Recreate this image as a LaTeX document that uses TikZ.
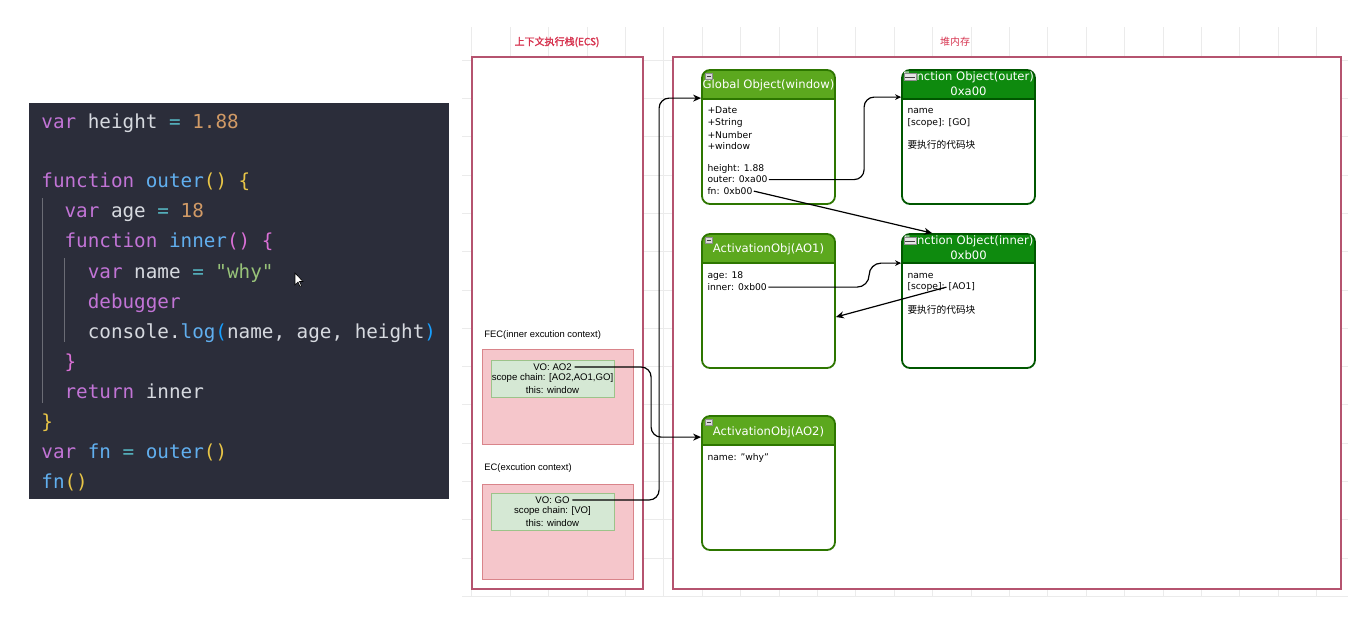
\documentclass[tikz,border=0pt]{standalone}
\usepackage{fontspec}
\setmainfont{DejaVu Sans}
\newfontfamily\codefont{DejaVu Sans Mono}
\newfontfamily\labelfont{Liberation Sans}
\newfontfamily\cjk{Noto Sans CJK SC}
\newfontfamily\cjkbold[FakeBold=2]{Noto Sans CJK SC}
\definecolor{code bg}{HTML}{2B2D3A}
\definecolor{code kw}{HTML}{C274D6}
\definecolor{code var}{HTML}{D7DAE0}
\definecolor{code fun}{HTML}{61AFEF}
\definecolor{code num}{HTML}{D19A66}
\definecolor{code op}{HTML}{56B6C2}
\definecolor{code str}{HTML}{98C379}
\definecolor{code br}{HTML}{E8C547}
\definecolor{code br2}{HTML}{DA70D6}
\definecolor{code br3}{HTML}{179FFF}
\definecolor{frame red}{HTML}{B5536F}
\definecolor{title red}{HTML}{D6334F}
\definecolor{context fill}{HTML}{F5C6CB}
\definecolor{context line}{HTML}{D9848A}
\definecolor{var fill}{HTML}{D5E8D4}
\definecolor{var line}{HTML}{9CC38A}
\definecolor{obj green}{HTML}{5CA81E}
\definecolor{obj green line}{HTML}{2D7600}
\definecolor{fun green}{HTML}{0E8A0E}
\definecolor{fun green line}{HTML}{005700}
\usepackage{tikz}
\usetikzlibrary{calc,positioning,arrows.meta}
\tikzstyle{line} = [line width=0.6pt]
\tikzstyle{line>} = [line,-{Stealth[length=4pt, width=3.5pt]}]
\tikzstyle{small line>} = [line,-{Stealth[length=3pt, width=2.8pt]}]
\tikzstyle{grid line} = [line width=0.25pt, black!8]
\tikzstyle{code line} = [anchor=mid west, inner sep=0pt, text=code var, font=\codefont\fontsize{9.64pt}{12pt}\selectfont]
\tikzstyle{indent guide} = [line width=0.4pt, white!30!code bg]
\tikzstyle{frame node} = [draw=frame red, line width=0.9pt, fill=white, inner sep=0pt]
\tikzstyle{frame title} = [text=title red, inner sep=0pt, font=\fontsize{5pt}{6pt}\selectfont]
\tikzstyle{context node} = [draw=context line, fill=context fill, line width=0.5pt, minimum width=75.5pt, minimum height=47.5pt, inner sep=0pt]
\tikzstyle{context label} = [anchor=west, inner sep=0pt, font=\labelfont\fontsize{4.7pt}{5.6pt}\selectfont]
\tikzstyle{var node} = [draw=var line, fill=var fill, line width=0.5pt, minimum width=61.5pt, minimum height=18.5pt, inner sep=0pt]
\tikzstyle{var text} = [inner sep=1.2pt, font=\labelfont\fontsize{4.8pt}{5.8pt}\selectfont]
\tikzstyle{obj title} = [text=white, inner sep=0pt, font=\fontsize{5.8pt}{7pt}\selectfont]
\tikzstyle{obj text} = [anchor=west, inner sep=0.5pt, font=\fontsize{4.6pt}{5.75pt}\selectfont]
\tikzstyle{obj cjk} = [anchor=west, inner sep=0.5pt, font=\cjk\fontsize{4.85pt}{5.8pt}\selectfont]
\tikzset{
  heap node/.style 2 args={draw=#2, line width=0.9pt, rounded corners=4pt,
    minimum width=66.5pt, minimum height=67pt, inner sep=0pt, fill=white,
    path picture={
      \fill[#1, sharp corners] (path picture bounding box.north west) rectangle ([yshift=-14.5pt]path picture bounding box.north east);
      \draw[#2, line width=0.7pt, sharp corners] ([yshift=-14.5pt]path picture bounding box.north west) -- ([yshift=-14.5pt]path picture bounding box.north east);
    }},
  collapse/.style={draw=black!45, fill=black!15, line width=0.2pt, minimum width=3.5pt, minimum height=3pt, inner sep=0pt,
    path picture={\draw[black!75, line width=0.4pt] ([xshift=0.6pt]path picture bounding box.west) -- ([xshift=-0.6pt]path picture bounding box.east);}},
  wide collapse/.style={collapse, minimum width=6pt, minimum height=3.5pt, fill=black!10}
}
\newcommand\cKw[1]{\textcolor{code kw}{#1}}
\newcommand\cVar[1]{\textcolor{code var}{#1}}
\newcommand\cFun[1]{\textcolor{code fun}{#1}}
\newcommand\cNum[1]{\textcolor{code num}{#1}}
\newcommand\cOp[1]{\textcolor{code op}{#1}}
\newcommand\cStr[1]{\textcolor{code str}{#1}}
\newcommand\cBrA[1]{\textcolor{code br}{#1}}
\newcommand\cBrB[1]{\textcolor{code br2}{#1}}
\newcommand\cBrC[1]{\textcolor{code br3}{#1}}

\begin{document}
\begin{tikzpicture}[x=0.5pt,y=-0.5pt]
        \useasboundingbox (0,0) rectangle (1365,623);
        
        % code panel
        \fill[code bg] (29,103) rectangle (449,499);
        \draw[indent guide] (42,198) -- (42,403);
        \draw[indent guide] (64,258) -- (64,342);
        \node[code line] (c1) at (41,123) {\cKw{var} height \cOp{=} \cNum{1.88}};
        \node[code line] (c2) at (41,182) {\cKw{function} \cFun{outer}\cBrA{()} \cBrA{\{}};
        \node[code line] (c3) at (64.2,212) {\cKw{var} age \cOp{=} \cNum{18}};
        \node[code line] (c4) at (64.2,242) {\cKw{function} \cFun{inner}\cBrB{()} \cBrB{\{}};
        \node[code line] (c5) at (87.4,273) {\cKw{var} name \cOp{=} \cStr{"why"}};
        \node[code line] (c6) at (87.4,303) {\cKw{debugger}};
        \node[code line] (c7) at (87.4,333) {console.\cFun{log}\cBrC{(}name, age, height\cBrC{)}};
        \node[code line] (c8) at (64.2,363) {\cBrB{\}}};
        \node[code line] (c9) at (64.2,393) {\cKw{return} inner};
        \node[code line] (c10) at (41,423) {\cBrA{\}}};
        \node[code line] (c11) at (41,453) {\cKw{var} \cFun{fn} \cOp{=} \cFun{outer}\cBrA{()}};
        \node[code line] (c12) at (41,483) {\cFun{fn}\cBrA{()}};
        \draw[fill=white, draw=black, line width=0.3pt] (295,273) -- (295,285) -- (298,282) -- (300,286.5) -- (301.5,285.8) -- (299.5,281.5) -- (303,281.5) -- cycle;
        
        % grid
        \foreach \i in {0,...,22} \draw[grid line] (471.7+38.4*\i,27) -- (471.7+38.4*\i,596);
        \foreach \j in {0,...,14} \draw[grid line] (462,60+38.3*\j) -- (1348,60+38.3*\j);
        
        % stack and heap frames
        \node[frame node, minimum width=85.5pt, minimum height=266pt] (ecs) at (557.5,323) {};
        \node[frame node, minimum width=334pt, minimum height=266pt] (heap) at (1007,323) {};
        \node[frame title] (ecsTitle) at (557,42) {\cjkbold 上下文执行栈(ECS)};
        \node[frame title] (heapTitle) at (955,42) {\cjk 堆内存};
        
        % execution contexts
        \node[context label] (fecLabel) at (484,335) {FEC(inner excution context)};
        \node[context node] (fec) at (557.5,396.5) {};
        \node[var node] (fecVar) at (552.5,378.5) {};
        \node[var text] (fecVO) at ($(fecVar.center)+(0,-11.5)$) {VO: AO2};
        \node[var text] (fecScope) at (fecVar.center) {scope chain: [AO2,AO1,GO]};
        \node[var text] (fecThis) at ($(fecVar.center)+(0,11.5)$) {this: window};
        
        \node[context label] (ecLabel) at (484,468) {EC(excution context)};
        \node[context node] (ec) at (557.5,531.5) {};
        \node[var node] (ecVar) at (552.5,511.5) {};
        \node[var text] (ecVO) at ($(ecVar.center)+(0,-11.5)$) {VO: GO};
        \node[var text] (ecScope) at (ecVar.center) {scope chain: [VO]};
        \node[var text] (ecThis) at ($(ecVar.center)+(0,11.5)$) {this: window};
        
        % heap objects
        \node[heap node={obj green}{obj green line}] (go) at (768.5,137) {};
        \node[obj title] (goTitle) at ($(go.north)+(0,16)$) {Global Object(window)};
        \node[obj text] (goDate) at ($(go.north west)+(5,41.5)$) {+Date};
        \node[obj text] (goString) at ($(go.north west)+(5,53.5)$) {+String};
        \node[obj text] (goNumber) at ($(go.north west)+(5,65.5)$) {+Number};
        \node[obj text] (goWindow) at ($(go.north west)+(5,76.5)$) {+window};
        \node[obj text] (goHeight) at ($(go.north west)+(5,99.5)$) {height: 1.88};
        \node[obj text] (goOuter) at ($(go.north west)+(5,110.5)$) {outer: 0xa00};
        \node[obj text] (goFn) at ($(go.north west)+(5,122)$) {fn: 0xb00};
        
        \node[heap node={fun green}{fun green line}] (fo1) at (968.5,137) {};
        \node[obj title] (fo1Title) at ($(fo1.north)+(0,8.5)$) {Function Object(outer)};
        \node[obj title] (fo1Addr) at ($(fo1.north)+(0,22.5)$) {0xa00};
        \node[obj text] (fo1Name) at ($(fo1.north west)+(5,41.5)$) {name};
        \node[obj text] (fo1Scope) at ($(fo1.north west)+(5,53.5)$) {[scope]: [GO]};
        \node[obj cjk] (fo1Code) at ($(fo1.north west)+(5,76)$) {要执行的代码块};
        
        \node[heap node={obj green}{obj green line}] (ao1) at (768.5,301) {};
        \node[obj title] (ao1Title) at ($(ao1.north)+(0,16)$) {ActivationObj(AO1)};
        \node[obj text] (ao1Age) at ($(ao1.north west)+(5,42.5)$) {age: 18};
        \node[obj text] (aoInner) at ($(ao1.north west)+(5,54)$) {inner: 0xb00};
        
        \node[heap node={fun green}{fun green line}] (fi) at (968.5,301) {};
        \node[obj title] (fiTitle) at ($(fi.north)+(0,8.5)$) {Function Object(inner)};
        \node[obj title] (fiAddr) at ($(fi.north)+(0,22.5)$) {0xb00};
        \node[obj text] (fiName) at ($(fi.north west)+(5,42.5)$) {name};
        \node[obj text] (fiScope) at ($(fi.north west)+(5,54)$) {[scope]: [AO1]};
        \node[obj cjk] (fiCode) at ($(fi.north west)+(5,77)$) {要执行的代码块};
        
        \node[heap node={obj green}{obj green line}] (ao2) at (768.5,483) {};
        \node[obj title] (ao2Title) at ($(ao2.north)+(0,17)$) {ActivationObj(AO2)};
        \node[obj text] (ao2Name) at ($(ao2.north west)+(5,42.5)$) {name: "why"};
        
        \foreach \o in {go,ao1,ao2}
            \node[collapse] (\o-icon) at ($(\o.north west)+(8,7)$) {};
        \foreach \o in {fo1,fi}
            \node[wide collapse] (\o-icon) at ($(\o.north west)+(9,8)$) {};
        
        % references
        \coordinate (goIn) at ($(go.north west)+(0,29)$);
        \coordinate (ao2In) at ($(ao2.north west)+(0,22)$);
        \coordinate (fo1In) at ($(fo1.north west)+(0,28)$);
        \coordinate (fiTop) at ($(fi.north west)+(31,0)$);
        \coordinate (fiIn) at ($(fi.north west)+(0,30)$);
        \coordinate (scopeTail) at ($(fiScope.east)+(-30,0)$);
        \coordinate (ao1Back) at ($(ao1.east)+(0,16)$);
        
        \draw[line>, rounded corners=5pt] (ecVO.east) -| ($(goIn)+(-42,0)$) -- (goIn);
        \draw[line>, rounded corners=5pt] (fecVO.east) -| ($(ao2In)+(-50,0)$) -- (ao2In);
        \draw[small line>, rounded corners=5pt] (goOuter.east) -| ($(fo1In)+(-37,0)$) -- (fo1In);
        \draw[line>] (goFn.east) -- (fiTop);
        \draw[small line>, rounded corners=6pt] (aoInner.east) -| ($(fiIn)+(-32,0)$) -- (fiIn);
        \draw[line>] (scopeTail) -- (ao1Back);
        
    \end{tikzpicture}
\end{document}
